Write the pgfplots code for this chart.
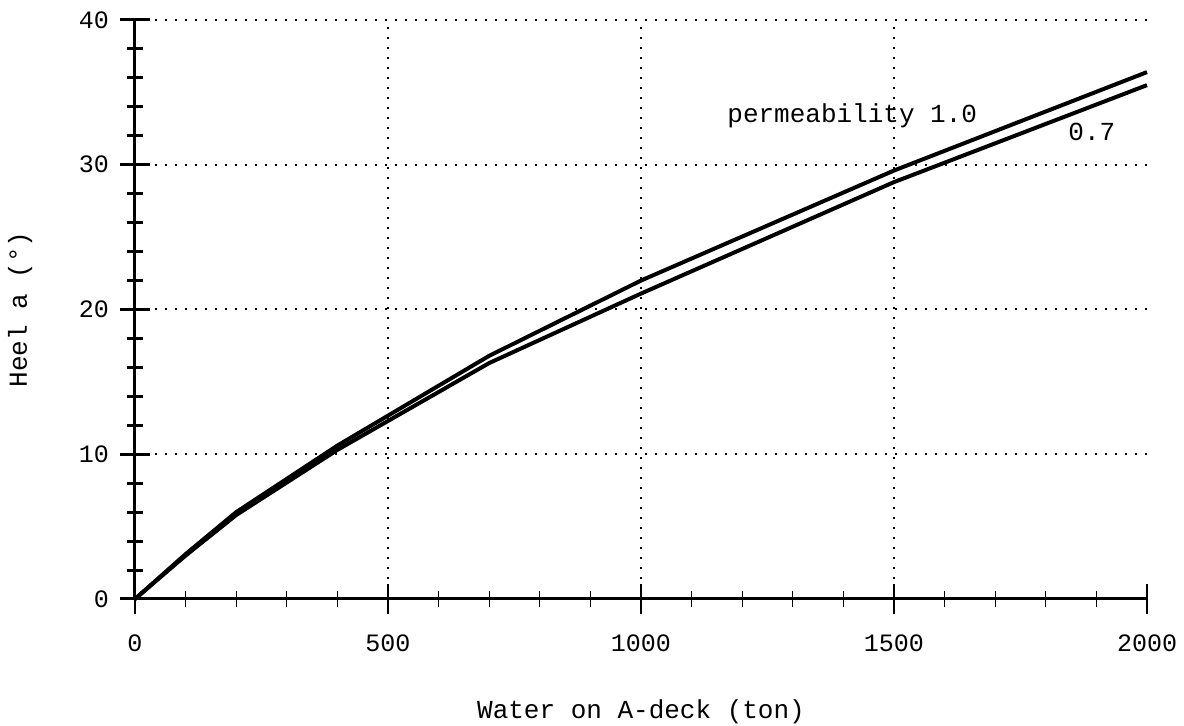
\documentclass[border=0pt]{standalone}
\usepackage{fontspec}
\setmainfont{Liberation Mono}
\usepackage{pgfplots}
\pgfplotsset{compat=1.18}

\begin{document}
\begin{tikzpicture}
\begin{axis}[
  scale only axis,
  width=506pt, height=289.5pt,
  xmin=0, xmax=2000, ymin=0, ymax=40,
  axis x line=bottom, axis y line=left,
  axis line style={-, line width=1.5pt, black},
  xtick={0,500,1000,1500},
  extra x ticks={2000},
  extra x tick style={grid=none},
  minor xtick={100,200,300,400,600,700,800,900,1100,1200,1300,1400,1600,1700,1800,1900},
  ytick={0,10,20,30,40},
  minor y tick num=4,
  tick align=center,
  x tick style={line width=0.6pt, black},
  y tick style={line width=1.5pt, black},
  major tick length=15pt,
  minor tick length=8pt,
  grid=major,
  major grid style={black, line width=1pt, dash pattern=on 1pt off 4pt},
  /pgf/number format/assume math mode=true,
  /pgf/number format/set thousands separator={},
  tick label style={font=\fontsize{12.5}{14}\selectfont},
  xticklabel style={yshift=-7pt},
  yticklabel style={xshift=-2pt},
  label style={font=\fontsize{13}{15}\selectfont},
  xlabel={Water on A-deck (ton)},
  ylabel={Heel a (°)},
  xlabel style={at={(axis description cs:0.5,-0.1952)}, anchor=center},
  ylabel style={at={(axis description cs:-0.1136,0.5)}, anchor=center},
  clip=false,
]
% permeability 1.0
\addplot[black, line width=2pt] coordinates {
  (0,0) (100,3.1) (200,6.0) (400,10.6) (700,16.8) (1000,22.0) (1500,29.6) (2000,36.4)
};
% permeability 0.7
\addplot[black, line width=2pt] coordinates {
  (0,0) (100,3.0) (200,5.8) (400,10.3) (700,16.3) (1000,21.1) (1500,28.8) (2000,35.5)
};
\node[anchor=west, inner sep=0pt, font=\fontsize{13}{15}\selectfont] at (axis cs:1170,33.4) {permeability 1.0};
\node[anchor=west, inner sep=0pt, font=\fontsize{13}{15}\selectfont] at (axis cs:1844,32.3) {0.7};
\end{axis}
\pgfresetboundingbox
\path (-67.5pt,-63.5pt) rectangle (524.5pt,299.5pt);
\end{tikzpicture}
\end{document}
